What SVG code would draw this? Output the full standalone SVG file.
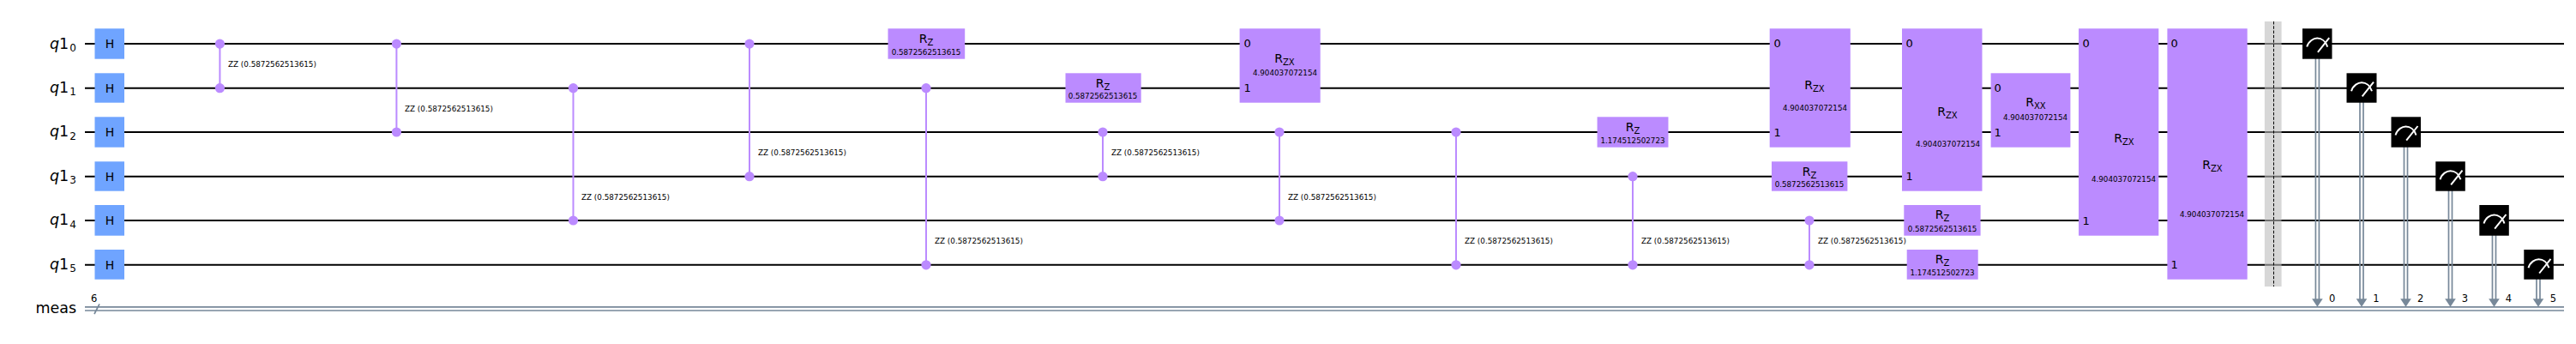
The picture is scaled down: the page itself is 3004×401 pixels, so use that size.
<svg xmlns="http://www.w3.org/2000/svg" width="3004" height="401" viewBox="0 0 3004 401">
<style>
text{font-family:"DejaVu Sans",sans-serif;fill:#000}
.w{stroke:#000;stroke-width:2;fill:none}
.c{stroke:#778899;stroke-width:1.7;fill:none}
.h{fill:#6fa4ff}
.g{fill:#bb8bff}
.l{stroke:#bb8bff;stroke-width:2;fill:none}
.d{fill:#bb8bff}
.m{fill:#000}
.a{stroke:#fff;stroke-width:2;fill:none}
.t{font-size:17.5px}
.s{font-size:12px}
.gl{font-size:14px;text-anchor:middle}
.gs{font-size:10px}
.p{font-size:8.75px;text-anchor:middle}
.z{font-size:8.8px}
.n{font-size:13px}
.k{font-size:11.5px;text-anchor:middle}
.b{fill:#bdbdbd;fill-opacity:.6}
</style>
<rect width="3004" height="401" fill="#fff"/>
<g id="connectors">
<g id="wires">
<path class="w" d="M99 51.1H2990M99 102.7H2990M99 154H2990M99 205.7H2990M99 257H2990M99 308.8H2990"/>
<path class="c" d="M99 357.8H2990M99 362H2990M110 366L116 354.3"/>
</g>
<g id="zz-lines">
<path class="l" d="M256.4 51.1V102.7M462.4 51.1V154M668.5 102.7V257M874 51.1V205.7M1080 102.7V308.8M1286 154V205.7M1492 154V257M1698 154V308.8M1904 205.7V308.8M2110 257V308.8"/>
</g>
</g>
<g id="labels">
<text class="t" x="58" y="56.5"><tspan font-style="italic">q</tspan>1<tspan class="s" dx="1" dy="3.2">0</tspan></text>
<text class="t" x="58" y="108"><tspan font-style="italic">q</tspan>1<tspan class="s" dx="1" dy="3.2">1</tspan></text>
<text class="t" x="58" y="159.4"><tspan font-style="italic">q</tspan>1<tspan class="s" dx="1" dy="3.2">2</tspan></text>
<text class="t" x="58" y="211"><tspan font-style="italic">q</tspan>1<tspan class="s" dx="1" dy="3.2">3</tspan></text>
<text class="t" x="58" y="262.4"><tspan font-style="italic">q</tspan>1<tspan class="s" dx="1" dy="3.2">4</tspan></text>
<text class="t" x="58" y="314.2"><tspan font-style="italic">q</tspan>1<tspan class="s" dx="1" dy="3.2">5</tspan></text>
<text class="t" x="41.5" y="365">meas</text>
<text class="k" x="109.7" y="352">6</text>
</g>
<g id="h0"><rect class="h" x="110.5" y="33.3" width="34.5" height="35.4"/><text class="gl" x="128" y="56.2">H</text></g>
<g id="h1"><rect class="h" x="110.5" y="85.3" width="34.5" height="34.4"/><text class="gl" x="128" y="107.7">H</text></g>
<g id="h2"><rect class="h" x="110.5" y="136.3" width="34.5" height="35.4"/><text class="gl" x="128" y="159.1">H</text></g>
<g id="h3"><rect class="h" x="110.5" y="188.3" width="34.5" height="34.4"/><text class="gl" x="128" y="210.7">H</text></g>
<g id="h4"><rect class="h" x="110.5" y="239" width="34.5" height="35.7"/><text class="gl" x="128" y="262.1">H</text></g>
<g id="h5"><rect class="h" x="110.5" y="291" width="34.5" height="34.7"/><text class="gl" x="128" y="313.9">H</text></g>
<g id="zz1"><circle class="d" cx="256.4" cy="51.1" r="5.6"/><circle class="d" cx="256.4" cy="102.7" r="5.6"/><text class="z" x="266" y="78">ZZ (0.5872562513615)</text></g>
<g id="zz2"><circle class="d" cx="462.4" cy="51.1" r="5.6"/><circle class="d" cx="462.4" cy="154" r="5.6"/><text class="z" x="472" y="130">ZZ (0.5872562513615)</text></g>
<g id="zz3"><circle class="d" cx="668.5" cy="102.7" r="5.6"/><circle class="d" cx="668.5" cy="257" r="5.6"/><text class="z" x="678" y="233">ZZ (0.5872562513615)</text></g>
<g id="zz4"><circle class="d" cx="874" cy="51.1" r="5.6"/><circle class="d" cx="874" cy="205.7" r="5.6"/><text class="z" x="884" y="181">ZZ (0.5872562513615)</text></g>
<g id="rz1"><rect class="g" x="1035.5" y="33.3" width="89.7" height="35.4"/><text class="gl" x="1080" y="49.5">R<tspan class="gs" dy="3">Z</tspan></text><text class="p" x="1080" y="64">0.5872562513615</text></g>
<g id="zz5"><circle class="d" cx="1080" cy="102.7" r="5.6"/><circle class="d" cx="1080" cy="308.8" r="5.6"/><text class="z" x="1090" y="284">ZZ (0.5872562513615)</text></g>
<g id="rz2"><rect class="g" x="1242.5" y="85.3" width="88.2" height="34.4"/><text class="gl" x="1286" y="101.5">R<tspan class="gs" dy="3">Z</tspan></text><text class="p" x="1286" y="115">0.5872562513615</text></g>
<g id="zz6"><circle class="d" cx="1286" cy="154" r="5.6"/><circle class="d" cx="1286" cy="205.7" r="5.6"/><text class="z" x="1296" y="181">ZZ (0.5872562513615)</text></g>
<g id="rzx1"><rect class="g" x="1445.6" y="33.3" width="94.1" height="86.4"/><text class="n" x="1450.5" y="55">0</text><text class="n" x="1450.5" y="107">1</text><text class="gl" x="1498" y="73">R<tspan class="gs" dy="3">ZX</tspan></text><text class="p" x="1498.5" y="88">4.904037072154</text></g>
<g id="zz7"><circle class="d" cx="1492" cy="154" r="5.6"/><circle class="d" cx="1492" cy="257" r="5.6"/><text class="z" x="1502" y="233">ZZ (0.5872562513615)</text></g>
<g id="zz8"><circle class="d" cx="1698" cy="154" r="5.6"/><circle class="d" cx="1698" cy="308.8" r="5.6"/><text class="z" x="1708" y="284">ZZ (0.5872562513615)</text></g>
<g id="rz3"><rect class="g" x="1862.6" y="136.3" width="82.9" height="35.4"/><text class="gl" x="1904" y="152.5">R<tspan class="gs" dy="3">Z</tspan></text><text class="p" x="1904" y="167.3">1.174512502723</text></g>
<g id="zz9"><circle class="d" cx="1904" cy="205.7" r="5.6"/><circle class="d" cx="1904" cy="308.8" r="5.6"/><text class="z" x="1914" y="284">ZZ (0.5872562513615)</text></g>
<g id="rzx2"><rect class="g" x="2063.7" y="33.3" width="94.1" height="138.4"/><text class="n" x="2068.5" y="55">0</text><text class="n" x="2068.5" y="158.5">1</text><text class="gl" x="2116" y="103.7">R<tspan class="gs" dy="3">ZX</tspan></text><text class="p" x="2116.5" y="129">4.904037072154</text></g>
<g id="rz4"><rect class="g" x="2066" y="188.3" width="88.4" height="34.4"/><text class="gl" x="2110" y="204.5">R<tspan class="gs" dy="3">Z</tspan></text><text class="p" x="2110" y="218">0.5872562513615</text></g>
<g id="zz10"><circle class="d" cx="2110" cy="257" r="5.6"/><circle class="d" cx="2110" cy="308.8" r="5.6"/><text class="z" x="2120" y="284">ZZ (0.5872562513615)</text></g>
<g id="rzx3"><rect class="g" x="2218" y="33.3" width="93.5" height="189.4"/><text class="n" x="2222.5" y="55">0</text><text class="n" x="2222.5" y="210">1</text><text class="gl" x="2271" y="135">R<tspan class="gs" dy="3">ZX</tspan></text><text class="p" x="2271.5" y="171">4.904037072154</text></g>
<g id="rz5"><rect class="g" x="2220.3" y="239" width="89.3" height="35.7"/><text class="gl" x="2265" y="255">R<tspan class="gs" dy="3">Z</tspan></text><text class="p" x="2265" y="270">0.5872562513615</text></g>
<g id="rz6"><rect class="g" x="2223.7" y="291" width="83" height="34.7"/><text class="gl" x="2265" y="307">R<tspan class="gs" dy="3">Z</tspan></text><text class="p" x="2265" y="321">1.174512502723</text></g>
<g id="rxx"><rect class="g" x="2321.6" y="85.3" width="92.8" height="86.4"/><text class="n" x="2325.5" y="107">0</text><text class="n" x="2325.5" y="158.5">1</text><text class="gl" x="2374" y="123.7">R<tspan class="gs" dy="3">XX</tspan></text><text class="p" x="2373.5" y="140">4.904037072154</text></g>
<g id="rzx4"><rect class="g" x="2424" y="33.3" width="93.3" height="241.4"/><text class="n" x="2428.5" y="55">0</text><text class="n" x="2428.5" y="261.5">1</text><text class="gl" x="2477" y="166">R<tspan class="gs" dy="3">ZX</tspan></text><text class="p" x="2476.5" y="212">4.904037072154</text></g>
<g id="rzx5"><rect class="g" x="2527.4" y="33.3" width="93.3" height="292.4"/><text class="n" x="2531.5" y="55">0</text><text class="n" x="2531.5" y="313">1</text><text class="gl" x="2580" y="196.7">R<tspan class="gs" dy="3">ZX</tspan></text><text class="p" x="2579.5" y="253">4.904037072154</text></g>
<g id="barrier"><rect class="b" x="2640.9" y="25" width="19.7" height="309"/><path d="M2651.5 25V334" stroke="#000" stroke-width="1" stroke-dasharray="3.5 1.8" fill="none"/></g>
<defs>
<g id="mg"><path class="a" d="M-12 3.5C-10 -3.5 -4 -6.5 0 -6.5C5 -6.5 10 -3 12 3.5M0.7 9.7L14 -7"/></g>
<path id="ah" d="M-6.3 -9.4H6.3L0 0Z" fill="#778899"/>
</defs>
<g id="m0"><path class="c" d="M2700.4 68V350M2704.4 68V350"/><use href="#ah" x="2702.4" y="357.7"/><rect class="m" x="2685" y="33.3" width="34.5" height="35.4"/><use href="#mg" x="2702.2" y="51.1"/><text class="k" x="2719.7" y="352">0</text></g>
<g id="m1"><path class="c" d="M2752 119V350M2756 119V350"/><use href="#ah" x="2754" y="357.7"/><rect class="m" x="2736.5" y="85.3" width="35" height="34.4"/><use href="#mg" x="2754" y="102.7"/><text class="k" x="2771" y="352">1</text></g>
<g id="m2"><path class="c" d="M2803.5 171V350M2807.5 171V350"/><use href="#ah" x="2805.5" y="357.7"/><rect class="m" x="2788.5" y="136.3" width="34.5" height="35.4"/><use href="#mg" x="2805.5" y="154"/><text class="k" x="2822.6" y="352">2</text></g>
<g id="m3"><path class="c" d="M2855.5 222V350M2859.5 222V350"/><use href="#ah" x="2857.5" y="357.7"/><rect class="m" x="2840.3" y="188.3" width="34.5" height="34.4"/><use href="#mg" x="2857.5" y="205.7"/><text class="k" x="2874.5" y="352">3</text></g>
<g id="m4"><path class="c" d="M2906.5 274V350M2910.5 274V350"/><use href="#ah" x="2908.5" y="357.7"/><rect class="m" x="2891.3" y="239" width="34.5" height="35.7"/><use href="#mg" x="2908.5" y="257"/><text class="k" x="2925.5" y="352">4</text></g>
<g id="m5"><path class="c" d="M2958 325V350M2962 325V350"/><use href="#ah" x="2960" y="357.7"/><rect class="m" x="2943.3" y="291" width="34.5" height="34.7"/><use href="#mg" x="2960.5" y="308.8"/><text class="k" x="2977.3" y="352">5</text></g>
</svg>
